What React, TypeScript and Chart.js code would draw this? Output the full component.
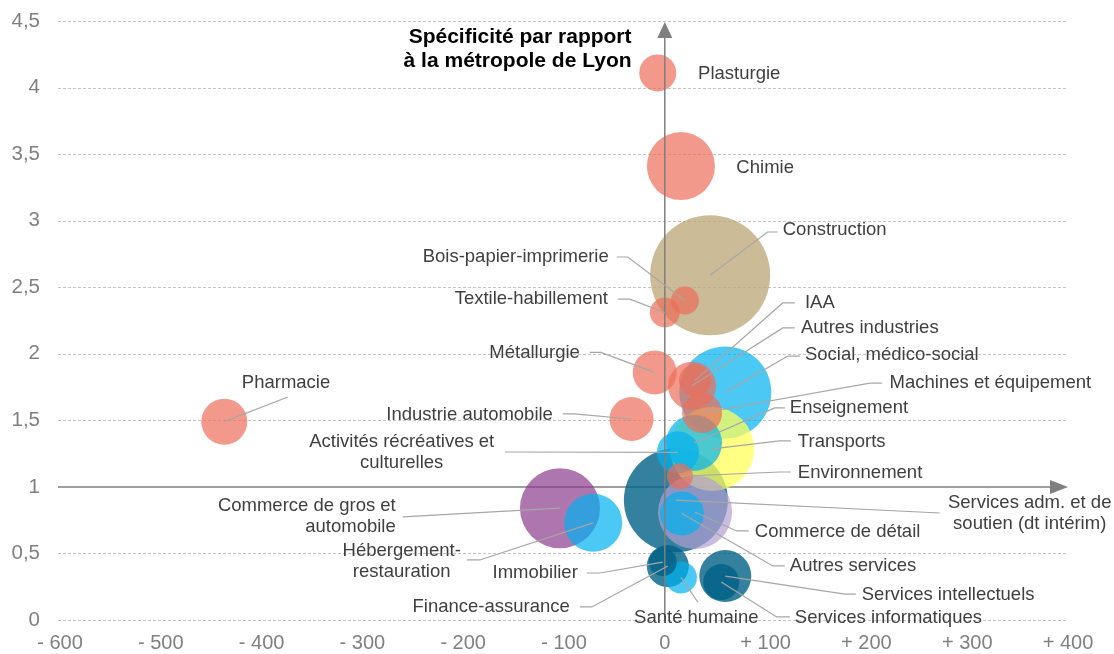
import React, { useEffect, useRef } from "react";
import { Chart, registerables } from "chart.js";

Chart.register(...registerables);

// ---------- DATA ----------
const sectors: string[] = [
  "Plasturgie", "Chimie", "Construction", "Bois-papier-imprimerie", "Textile-habillement",
  "Métallurgie", "Pharmacie", "Industrie automobile", "IAA", "Autres industries",
  "Social, médico-social", "Machines et équipement", "Enseignement", "Transports",
  "Activités récréatives et culturelles", "Environnement", "Services adm. et de soutien (dt intérim)",
  "Commerce de détail", "Autres services", "Commerce de gros et automobile",
  "Hébergement-restauration", "Immobilier", "Finance-assurance", "Santé humaine",
  "Services intellectuels", "Services informatiques",
];

// x : évolution (écart), y : spécificité par rapport à la métropole de Lyon
const evolution: number[] = [
  -7, 16, 45, 20, 0, -10, -437, -33, 30, 27, 60, 37, 29, 47, 13, 15, 11, 30, 17, -104, -71, -2, 3, 16, 60, 56,
];
const specificite: number[] = [
  4.11, 3.41, 2.59, 2.4, 2.31, 1.86, 1.49, 1.51, 1.8, 1.76, 1.71, 1.555, 1.33, 1.285, 1.26, 1.08, 0.9, 0.81, 0.8,
  0.84, 0.73, 0.435, 0.405, 0.32, 0.33, 0.285,
];
// bubble size (radius)
const taille: number[] = [
  18.5, 34, 60, 14, 15, 22, 23, 22, 16, 24, 46, 20, 28, 42, 21, 13, 52, 37, 22, 40, 29, 14, 21, 16, 26, 18,
];
const famille: string[] = [
  "industrie", "industrie", "construction", "industrie", "industrie", "industrie", "industrie", "industrie",
  "industrie", "industrie", "presentiel", "industrie", "presentiel", "transports", "presentiel", "industrie",
  "services", "detail", "presentiel", "gros", "presentiel", "services", "services", "presentiel", "services",
  "services",
];

const xTickLabels: string[] = ["- 600", "- 500", "- 400", "- 300", "- 200", "- 100", "0", "+ 100", "+ 200", "+ 300", "+ 400"];
const yTickLabels: string[] = ["0", "0,5", "1", "1,5", "2", "2,5", "3", "3,5", "4", "4,5"];

const titleLines: string[] = ["Spécificité par rapport", "à la métropole de Lyon"];

// ---------- STYLES ----------
const palette: Record<string, string> = {
  industrie: "rgba(236,110,90,0.7)",
  construction: "rgba(190,170,125,0.8)",
  presentiel: "rgba(0,176,240,0.7)",
  transports: "rgba(255,255,90,0.75)",
  services: "rgba(0,98,135,0.8)",
  detail: "rgba(180,160,210,0.7)",
  gros: "rgba(140,60,140,0.7)",
};

type Note = {
  sector: string;
  lines?: string[];
  at: [number, number];
  align: "left" | "right" | "center";
  via?: [number, number][];
};

const notes: Note[] = [
  { sector: "Plasturgie", at: [33, 4.1], align: "left" },
  { sector: "Chimie", at: [71, 3.4], align: "left" },
  { sector: "Construction", at: [117, 2.93], align: "left", via: [[112, 2.915], [102, 2.915]] },
  { sector: "Bois-papier-imprimerie", at: [-55.6, 2.727], align: "right", via: [[-47.6, 2.727], [-36.7, 2.727]] },
  { sector: "Textile-habillement", at: [-56.5, 2.41], align: "right", via: [[-46.6, 2.41], [-34.7, 2.41]] },
  { sector: "Métallurgie", at: [-84.3, 2.01], align: "right", via: [[-74.4, 2.01], [-63.5, 2.01]] },
  { sector: "Pharmacie", at: [-419.6, 1.78], align: "left", via: [[-374, 1.675]] },
  { sector: "Industrie automobile", at: [-111, 1.54], align: "right", via: [[-101.2, 1.548], [-90.3, 1.548]] },
  { sector: "Activités récréatives et culturelles", lines: ["Activités récréatives et", "culturelles"], at: [-261, 1.262], align: "center", via: [[-158.7, 1.262]] },
  { sector: "Commerce de gros et automobile", lines: ["Commerce de gros et", "automobile"], at: [-266.9, 0.778], align: "right", via: [[-260, 0.774]] },
  { sector: "Hébergement-restauration", lines: ["Hébergement-", "restauration"], at: [-261, 0.44], align: "center", via: [[-196.4, 0.451], [-183.5, 0.451]] },
  { sector: "Immobilier", at: [-86.3, 0.353], align: "right", via: [[-77.4, 0.353], [-64.5, 0.353]] },
  { sector: "Finance-assurance", at: [-94.2, 0.098], align: "right", via: [[-84.3, 0.098], [-72.4, 0.098]] },
  { sector: "Santé humaine", at: [31.25, 0.015], align: "center", via: [[32.7, 0.135]] },
  { sector: "Services informatiques", at: [129, 0.015], align: "left", via: [[124, 0.023], [111, 0.023]] },
  { sector: "Services intellectuels", at: [195.4, 0.188], align: "left", via: [[189.5, 0.195], [178.6, 0.195]] },
  { sector: "Autres services", at: [124, 0.406], align: "left", via: [[119, 0.406], [107.1, 0.406]] },
  { sector: "Commerce de détail", at: [89.3, 0.661], align: "left", via: [[83.3, 0.669], [71.4, 0.669]] },
  { sector: "Services adm. et de soutien (dt intérim)", lines: ["Services adm. et de", "soutien (dt intérim)"], at: [362, 0.804], align: "center", via: [[272.8, 0.804]] },
  { sector: "Environnement", at: [132, 1.104], align: "left", via: [[125, 1.112], [114, 1.112]] },
  { sector: "Transports", at: [132, 1.337], align: "left", via: [[125, 1.345], [114, 1.345]] },
  { sector: "Enseignement", at: [124, 1.593], align: "left", via: [[119, 1.593], [109, 1.593]] },
  { sector: "Machines et équipement", at: [223, 1.78], align: "left", via: [[215.3, 1.78], [203.4, 1.78]] },
  { sector: "Social, médico-social", at: [139, 1.99], align: "left", via: [[134, 1.983], [122, 1.983]] },
  { sector: "Autres industries", at: [135, 2.194], align: "left", via: [[129, 2.194], [117, 2.194]] },
  { sector: "IAA", at: [139, 2.38], align: "left", via: [[129, 2.382], [117, 2.382]] },
];

const FONT = '"Liberation Sans", Arial, Helvetica, sans-serif';

const overlayPlugin = {
  id: "overlay",
  beforeDatasetsDraw(chart: any) {
    const { ctx, chartArea, scales } = chart;
    const xs = scales.x;
    const ys = scales.y;
    ctx.save();
    // dashed horizontal grid
    ctx.strokeStyle = "#c4c4c4";
    ctx.lineWidth = 1;
    ctx.setLineDash([3, 2]);
    for (const t of ys.ticks) {
      if (Math.abs(t.value - 1) < 1e-9) continue;
      const y = Math.round(ys.getPixelForValue(t.value)) + 0.5;
      ctx.beginPath();
      ctx.moveTo(chartArea.left - 2, y);
      ctx.lineTo(chartArea.right, y);
      ctx.stroke();
    }
    ctx.setLineDash([]);
    // horizontal axis at y = 1 with arrow
    const y1 = ys.getPixelForValue(1);
    const tip = xs.getPixelForValue(400);
    ctx.strokeStyle = "#7f7f7f";
    ctx.fillStyle = "#7f7f7f";
    ctx.lineWidth = 1.5;
    ctx.beginPath();
    ctx.moveTo(chartArea.left - 2, y1);
    ctx.lineTo(tip - 10, y1);
    ctx.stroke();
    ctx.beginPath();
    ctx.moveTo(tip, y1);
    ctx.lineTo(tip - 18, y1 - 7);
    ctx.lineTo(tip - 18, y1 + 7);
    ctx.closePath();
    ctx.fill();
    ctx.restore();
  },
  afterDatasetsDraw(chart: any) {
    const { ctx, scales } = chart;
    const xs = scales.x;
    const ys = scales.y;
    const px = (v: number) => xs.getPixelForValue(v);
    const py = (v: number) => ys.getPixelForValue(v);
    ctx.save();
    // vertical axis at x = 0 with arrow
    const x0 = px(0);
    const top = py(4.5) + 1;
    ctx.strokeStyle = "#7f7f7f";
    ctx.fillStyle = "#7f7f7f";
    ctx.lineWidth = 1.5;
    ctx.beginPath();
    ctx.moveTo(x0, py(0));
    ctx.lineTo(x0, top + 10);
    ctx.stroke();
    ctx.beginPath();
    ctx.moveTo(x0, top);
    ctx.lineTo(x0 - 7.5, top + 16);
    ctx.lineTo(x0 + 7.5, top + 16);
    ctx.closePath();
    ctx.fill();

    // leader lines
    ctx.strokeStyle = "#a6a6a6";
    ctx.lineWidth = 1.2;
    for (const n of notes) {
      if (!n.via) continue;
      const i = sectors.indexOf(n.sector);
      ctx.beginPath();
      n.via.forEach((p, k) => {
        if (k === 0) ctx.moveTo(px(p[0]), py(p[1]));
        else ctx.lineTo(px(p[0]), py(p[1]));
      });
      ctx.lineTo(px(evolution[i]), py(specificite[i]));
      ctx.stroke();
    }

    // labels
    ctx.fillStyle = "#404040";
    ctx.font = `18.5px ${FONT}`;
    ctx.textBaseline = "middle";
    const lh = 21;
    for (const n of notes) {
      const lines = n.lines || [n.sector];
      ctx.textAlign = n.align;
      const cx = px(n.at[0]);
      const cy = py(n.at[1]);
      lines.forEach((l, k) => {
        ctx.fillText(l, cx, cy + (k - (lines.length - 1) / 2) * lh);
      });
    }

    // title
    ctx.fillStyle = "#000000";
    ctx.font = `bold 21px ${FONT}`;
    ctx.textAlign = "right";
    const tx = px(-33);
    const ty = py(4.29);
    titleLines.forEach((l, k) => {
      ctx.fillText(l, tx, ty + (k - 0.5) * 24);
    });
    ctx.restore();
  },
};

const noScalePadding = (s: any) => {
  s.paddingTop = 0;
  s.paddingBottom = 0;
  s.paddingLeft = 0;
  s.paddingRight = 0;
};

export default function App() {
  const ref = useRef<HTMLCanvasElement | null>(null);

  useEffect(() => {
    if (!ref.current) return;
    const order = sectors.map((_, i) => i).sort((a, b) => taille[b] - taille[a]);
    const chart = new Chart(ref.current, {
      type: "bubble",
      data: {
        datasets: [
          {
            label: "Secteurs",
            data: order.map((i) => ({ x: evolution[i], y: specificite[i], r: taille[i] })),
            backgroundColor: order.map((i) => palette[famille[i]]),
            borderWidth: 0,
            hoverBorderWidth: 0,
            hoverRadius: 0,
          } as any,
        ],
      },
      options: {
        animation: false,
        responsive: true,
        maintainAspectRatio: false,
        events: [],
        layout: { autoPadding: false, padding: { left: 0, right: 46, top: 21, bottom: 0 } },
        plugins: { legend: { display: false }, tooltip: { enabled: false }, title: { display: false } },
        scales: {
          x: {
            type: "linear",
            min: -600,
            max: 400,
            grid: { display: false, drawTicks: false },
            border: { display: false },
            ticks: {
              stepSize: 100,
              autoSkip: false,
              maxRotation: 0,
              padding: 11,
              color: "#808080",
              font: { family: FONT, size: 20 },
              callback: (_v: any, idx: number) => xTickLabels[idx] ?? "",
            },
            afterFit: (s: any) => {
              s.height = 34;
              noScalePadding(s);
            },
          },
          y: {
            type: "linear",
            min: 0,
            max: 4.5,
            grid: { display: false, drawTicks: false },
            border: { display: false },
            ticks: {
              stepSize: 0.5,
              autoSkip: false,
              padding: 20,
              color: "#808080",
              font: { family: FONT, size: 20.5 },
              callback: (_v: any, idx: number) => yTickLabels[idx] ?? "",
            },
            afterFit: (s: any) => {
              s.width = 60;
              noScalePadding(s);
            },
          },
        },
      } as any,
      plugins: [overlayPlugin],
    });
    return () => chart.destroy();
  }, []);

  return (
    <div style={{ position: "fixed", left: 0, top: 0, width: 1114, height: 654, background: "#fff" }}>
      <canvas ref={ref} />
    </div>
  );
}
